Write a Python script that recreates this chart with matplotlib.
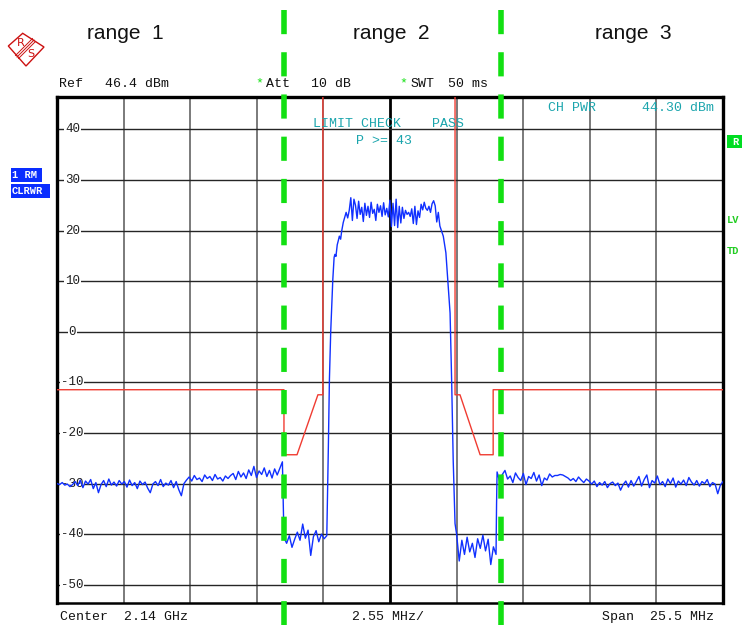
import numpy as np
import matplotlib
matplotlib.use("Agg")
import matplotlib.pyplot as plt
from matplotlib.patches import Polygon, Rectangle
from matplotlib.transforms import blended_transform_factory

W, H = 742, 625

# analyzer settings (MHz offset from 2.14 GHz centre, dBm)
ref_level = 46.4
span = 25.5
div_mhz = 2.55
ytick_values = [40, 30, 20, 10, 0, -10, -20, -30, -40, -50]

# measured trace, split in pieces (start MHz, stop MHz, dBm values)
left_floor_mhz = (-12.75, -4.12)
left_floor_db = [
    -30.0, -30.2, -29.8, -30.3, -30.1, -30.6, -30.2, -29.6, -30.4, -29.3, -30.8, -29.5, -30.1,
    -29.2, -31.0, -29.8, -31.8, -30.2, -29.4, -30.6, -29.1, -30.3, -29.7, -30.5, -29.4, -30.1,
    -29.6, -30.7, -29.3, -30.4, -29.8, -31.0, -29.5, -30.2, -29.7, -30.9, -31.8, -30.1, -29.6,
    -30.4, -29.2, -30.6, -29.9, -30.3, -29.4, -30.8, -29.6, -31.2, -32.4, -30.0, -29.3,
    -28.7, -29.5, -28.4, -29.2, -28.9, -29.6, -28.3, -29.0, -28.6, -29.4, -28.2, -29.1, -28.8,
    -29.5, -28.5, -29.0, -28.4,
    -28.0, -29.2, -27.6, -28.7, -27.9, -29.0, -27.3, -28.4, -26.6, -28.8, -27.5, -28.2, -26.9,
    -28.6, -27.4, -28.9, -27.1, -28.3, -27.0, -25.7,
]
left_gap_mhz = (-4.06, -2.42)
left_gap_db = [-40.7, -41.8, -40.3, -42.6, -41.0, -39.6, -41.2, -38.0, -40.8, -39.2, -44.2,
               -40.5, -39.3, -41.5, -40.0, -40.9, -40.3]
rise_mhz = [-2.36, -2.32, -2.27, -2.19, -2.14, -2.11, -2.07, -2.02, -1.98, -1.94, -1.89,
            -1.85, -1.79, -1.72]
rise_db = [-22.7, -9.5, 0.0, 10.3, 14.7, 15.3, 14.9, 17.2, 18.0, 18.9, 18.3, 19.9, 21.6, 22.9]
plateau_mhz = (-1.68, 1.85)
plateau_db = [
    23.6, 22.5, 24.0, 26.5, 22.0, 26.2,
    25.0, 22.4, 25.8, 23.2, 24.6, 21.8, 25.4, 23.0, 24.8, 22.6, 25.6, 23.4, 24.2, 22.0, 25.2,
    23.6, 24.9, 22.8, 25.5, 23.1, 24.4, 22.7,
    26.0, 20.8, 25.4, 21.0, 26.2, 20.6, 24.8, 21.5,
    24.6, 22.4, 24.0, 23.2, 23.6, 22.8, 24.3, 21.4, 24.8, 21.2, 23.9, 22.6,
    25.2, 24.1, 25.6, 24.4, 24.0, 24.8, 23.6, 25.3, 25.9,
    24.9, 21.7, 23.6,
]
fall_mhz = [1.91, 2.04, 2.14, 2.21, 2.30, 2.36, 2.42, 2.49]
fall_db = [20.9, 18.9, 15.6, 10.4, 3.7, -9.6, -25.4, -37.9]
right_gap_mhz = (2.55, 4.06)
right_gap_db = [-40.0, -45.3, -41.2, -44.0, -40.6, -43.5, -41.8, -44.6, -40.9, -42.8, -40.2,
                -43.3, -41.0, -46.0, -42.5, -44.0]
step_mhz = [4.08]
step_db = [-34.0]
right_floor_mhz = (4.10, 12.75)
right_floor_db = [
    -27.7, -29.6, -28.2, -27.4, -29.1, -28.5, -29.8, -27.9, -28.8, -29.4, -28.0, -30.2, -28.6,
    -29.0, -27.8, -29.5, -28.3, -30.4, -28.9, -29.3, -28.1, -28.7, -28.4,
    -28.4, -28.2, -28.3, -28.6, -28.9, -29.4, -29.0, -29.6, -28.7, -29.3, -29.8, -29.1, -29.5,
    -30.1, -29.5, -30.6, -29.8, -30.3, -29.6, -30.8, -30.0, -29.7, -30.4, -29.9, -31.3, -30.2,
    -29.5, -30.7, -29.4, -30.5, -29.6,
    -28.6, -30.5, -29.2, -28.3, -30.8, -29.4, -29.9, -28.5, -30.2, -29.6, -30.6, -29.1, -30.0,
    -28.9, -30.7, -29.5, -30.1, -29.3, -30.4, -28.8, -29.7, -30.3, -29.4, -30.5, -29.6, -30.0,
    -29.2, -30.6, -29.8, -30.1, -32.0, -30.3, -29.6,
]

# spectrum emission limit line
limit_left_mhz = [-12.75, -4.06, -4.06, -3.56, -2.76, -2.57, -2.57]
limit_left_db = [-11.45, -11.45, -24.3, -24.3, -12.45, -12.45, 46.4]
limit_right_mhz = [2.49, 2.49, 2.68, 3.45, 3.95, 3.95, 12.75]
limit_right_db = [46.4, -12.45, -12.45, -24.3, -24.3, -11.45, -11.45]

range_edges_mhz = [-4.04, 4.26]
range_names = ["range  1", "range  2", "range  3"]
range_label_px = [125, 391, 633]


def piece(rng, vals):
    return np.linspace(rng[0], rng[1], len(vals)), np.array(vals)


parts = [
    piece(left_floor_mhz, left_floor_db),
    piece(left_gap_mhz, left_gap_db),
    (np.array(rise_mhz), np.array(rise_db)),
    piece(plateau_mhz, plateau_db),
    (np.array(fall_mhz), np.array(fall_db)),
    piece(right_gap_mhz, right_gap_db),
    (np.array(step_mhz), np.array(step_db)),
    piece(right_floor_mhz, right_floor_db),
]
trace_f = np.concatenate([p[0] for p in parts])
trace_db = np.concatenate([p[1] for p in parts])


def fx(x):
    return x / W


def fy(y):
    return 1 - y / H


mono = "Liberation Mono"
cyan = "#1ba5ad"
green = "#12e012"

fig = plt.figure(figsize=(W / 100, H / 100), dpi=100)
fig.patch.set_facecolor("white")
ax = fig.add_axes([fx(57), fy(603), 666 / W, 506 / H])
ax.set_xlim(-span / 2, span / 2)
ax.set_ylim(ref_level - 100, ref_level)
ax.set_xticks([])
ax.set_yticks([])
for side in ["left", "right", "top"]:
    ax.spines[side].set_linewidth(2.4)
ax.spines["bottom"].set_linewidth(1.8)

# graticule
for k in range(1, 10):
    xv = -span / 2 + k * div_mhz
    if k == 5:
        ax.axvline(xv, color="black", lw=2.0, zorder=1)
    else:
        ax.axvline(xv, color="#7a7a7a", lw=1.4, zorder=1)
for v in ytick_values:
    ax.axhline(v, color="#252525", lw=1.0, zorder=1)
    ax.text(-span / 2 + 15.5 / 26.12, v, str(v), ha="center", va="center", fontsize=9,
            family=mono, color="#202020", zorder=2,
            bbox=dict(fc="white", ec="none", pad=0.5))

ax.plot(limit_left_mhz, limit_left_db, color="#f03c32", lw=1.0, zorder=3)
ax.plot(limit_right_mhz, limit_right_db, color="#f03c32", lw=1.0, zorder=3)
ax.plot(trace_f, trace_db, color="#1030ff", lw=1.0, zorder=4)

# green range markers over the whole picture
tr = blended_transform_factory(ax.transData, fig.transFigure)
for xe in range_edges_mhz:
    ax.plot([xe, xe], [fy(10), 0], transform=tr, clip_on=False, color=green, lw=4.0,
            linestyle=(0, (4.35, 3.25)), zorder=10)

for name, xp in zip(range_names, range_label_px):
    fig.text(fx(xp), fy(39), name, ha="center", va="baseline", fontsize=15,
             family="Liberation Sans", color="#111111")

# header line
hdr = dict(fontsize=9.5, family=mono, va="center", color="#111111")
fig.text(fx(59), fy(84), "Ref", **hdr)
fig.text(fx(105), fy(84), "46.4 dBm", **hdr)
fig.text(fx(255), fy(83), "*", fontsize=9.5, family=mono, va="center", color=green)
fig.text(fx(266), fy(84), "Att", **hdr)
fig.text(fx(311), fy(84), "10 dB", **hdr)
fig.text(fx(399), fy(83), "*", fontsize=9.5, family=mono, va="center", color=green)
fig.text(fx(411), fy(84), "SWT", **hdr)
fig.text(fx(448), fy(84), "50 ms", **hdr)

# footer
fig.text(fx(60), fy(617), "Center  2.14 GHz", **hdr)
fig.text(fx(352), fy(617), "2.55 MHz/", **hdr)
fig.text(fx(602), fy(617), "Span  25.5 MHz", **hdr)

cy = dict(fontsize=9.5, family=mono, va="center", color=cyan)
fig.text(fx(313), fy(124), "LIMIT CHECK", **cy)
fig.text(fx(432), fy(124), "PASS", **cy)
fig.text(fx(356), fy(141), "P >= 43", **cy)
fig.text(fx(548), fy(108), "CH PWR", **cy)
fig.text(fx(642), fy(108), "44.30 dBm", **cy)

# trace info boxes on the left
blue = "#0a2dff"
for label, y0, y1, x1 in [("1 RM", 168, 182, 42), ("CLRWR", 184, 198, 50)]:
    fig.patches.append(Rectangle((fx(11), fy(y1)), fx(x1 - 11), (y1 - y0) / H,
                                 transform=fig.transFigure, fc=blue, ec="none"))
    fig.text(fx(12), fy((y0 + y1) / 2), label, fontsize=7.5, family=mono,
             weight="bold", color="white", va="center")

# right hand softkey marks (cut at image edge)
fig.patches.append(Rectangle((fx(727), fy(148)), fx(20), 13 / H,
                             transform=fig.transFigure, fc="#00dd22", ec="none"))
fig.text(fx(732), fy(142), "R", fontsize=7.5, family=mono, weight="bold",
         color="white", va="center")
fig.text(fx(727), fy(220), "LV", fontsize=7.5, family=mono, weight="bold",
         color="#22cc22", va="center")
fig.text(fx(727), fy(251), "TD", fontsize=7.5, family=mono, weight="bold",
         color="#22cc22", va="center")

# R&S logo
red = "#cc1010"
logo = [(22.7, 33.3), (44, 47), (26, 66), (8.3, 46)]
fig.patches.append(Polygon([(fx(a), fy(b)) for a, b in logo], closed=True,
                           transform=fig.transFigure, fc="none", ec=red, lw=1.0))
for off in (-1.5, 0, 1.5):
    fig.add_artist(plt.Line2D([fx(34 + off), fx(17 + off)], [fy(40 + off), fy(57 + off)],
                              color=red, lw=0.7))
fig.text(fx(20.5), fy(43), "R", fontsize=8, color=red, ha="center", va="center")
fig.text(fx(30.5), fy(54), "S", fontsize=8, color=red, ha="center", va="center")

fig.savefig("out.png", dpi=100, facecolor="white")
